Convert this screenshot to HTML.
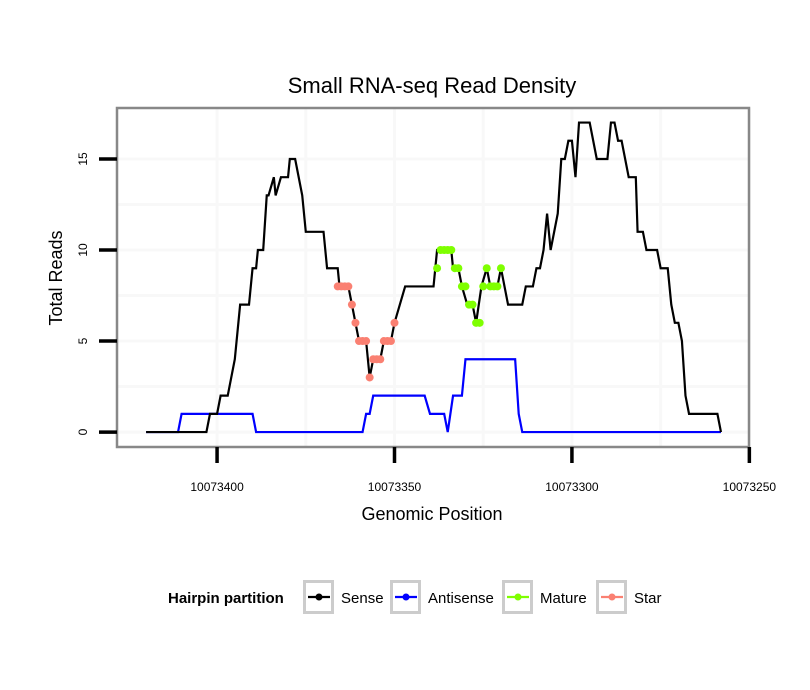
<!DOCTYPE html>
<html><head><meta charset="utf-8"><style>
body{margin:0;background:#fff;}
svg{display:block;font-family:"Liberation Sans",sans-serif;}
</style></head><body>
<svg id="chart" width="810" height="690" viewBox="0 0 810 690">
<rect x="0" y="0" width="810" height="690" fill="#fff"/>
<text x="432" y="93" font-size="22" text-anchor="middle">Small RNA-seq Read Density</text>
<g id="grid"></g>
<g id="series"></g>
<rect x="117" y="108" width="632" height="339" fill="none" stroke="#888" stroke-width="2.5"/>
<g id="axes"></g>
<text transform="translate(62,278) rotate(-90)" font-size="18" text-anchor="middle">Total Reads</text>
<text x="432" y="520" font-size="18" text-anchor="middle">Genomic Position</text>
<g>
<text x="168" y="603" font-size="15" font-weight="bold">Hairpin partition</text>
<g id="legend-items"></g>
</g>
</svg>
<script>
const yTicks=[0,5,10,15];
const xTicks=[10073400,10073350,10073300,10073250];
const senseX=[10073420,10073403,10073402,10073400,10073399,10073397,10073395,10073394,10073393.5,10073391,10073390,10073389,10073388.5,10073387,10073386,10073385.5,10073384,10073383.5,10073382,10073380,10073379.5,10073378,10073376,10073375,10073370,10073369,10073366,10073365.5,10073363,10073362,10073361,10073360,10073358,10073357,10073356,10073354,10073353,10073351,10073350,10073347,10073339,10073338,10073334,10073333.5,10073332,10073331,10073329.5,10073328,10073327,10073325.5,10073324,10073323,10073321,10073320,10073318,10073314,10073313,10073311,10073310,10073309,10073308,10073307,10073306,10073304,10073303,10073302,10073301,10073300,10073299,10073298,10073295,10073293,10073290,10073289,10073288,10073287,10073286,10073284,10073282,10073281.5,10073280,10073279,10073276,10073275,10073273,10073272,10073271,10073270,10073269,10073268,10073267,10073259,10073258];
const senseY=[0,0,1,1,2,2,4,6,7,7,9,9,10,10,13,13,14,13,14,14,15,15,13,11,11,9,9,8,8,7,6,5,5,3,4,4,5,5,6,8,8,10,10,9,9,8,7,7,6,8,9,8,8,9,7,7,8,8,9,9,10,12,10,12,15,15,16,16,14,17,17,15,15,17,17,16,16,14,14,11,11,10,10,9,9,7,6,6,5,2,1,1,0];
const antiX=[10073420,10073411,10073410,10073390,10073389,10073359,10073358,10073357,10073356,10073341.5,10073340,10073336,10073335,10073333.5,10073331,10073330,10073316,10073315,10073314,10073258];
const antiY=[0,0,1,1,0,0,1,1,2,2,1,1,0,2,2,4,4,1,0,0];
const matureX=[10073338,10073337,10073336,10073335,10073334,10073333,10073332,10073331,10073330,10073329,10073328,10073327,10073326,10073325,10073324,10073323,10073322,10073321,10073320];
const matureY=[9,10,10,10,10,9,9,8,8,7,7,6,6,8,9,8,8,8,9];
const starX=[10073366,10073365,10073364,10073363,10073362,10073361,10073360,10073359,10073358,10073357,10073356,10073355,10073354,10073353,10073352,10073351,10073350];
const starY=[8,8,8,8,7,6,5,5,5,3,4,4,4,5,5,5,6];
const legendLabels=["Sense","Antisense","Mature","Star"];
const legendColors=["#000","#0000ff","#7fff00","#fa8072"];

const NS="http://www.w3.org/2000/svg";
const X0=117,X1=749,Y0=447,Y1=108;
const xMin=10073428.2,xMax=10073250.1,yMin=-0.82,yMax=17.8;
function sx(v){return X0+(v-xMin)/(xMax-xMin)*(X1-X0);}
function sy(v){return Y0+(v-yMin)/(yMax-yMin)*(Y1-Y0);}
function mk(tag,attrs,parent){const e=document.createElementNS(NS,tag);for(const k in attrs)e.setAttribute(k,attrs[k]);parent.appendChild(e);return e;}
const grid=document.getElementById('grid'),series=document.getElementById('series'),axes=document.getElementById('axes');
[2.5,7.5,12.5].concat(yTicks).forEach(v=>{const l=mk('line',{x1:X0,x2:X1,y1:sy(v),y2:sy(v),stroke:'#f8f8f8','stroke-width':3},grid);

});
[10073375,10073325,10073275].concat(xTicks).forEach(v=>{const l=mk('line',{x1:sx(v),x2:sx(v),y1:Y1,y2:Y0,stroke:'#f8f8f8','stroke-width':3},grid);

});
yTicks.forEach(v=>{const t=mk('line',{x1:99,x2:117,y1:sy(v),y2:sy(v),stroke:'#000','stroke-width':3.5},axes);


const lb=mk('text',{transform:`translate(87,${sy(v)}) rotate(-90)`,'font-size':12,'text-anchor':'middle'},axes);lb.textContent=v;

});
xTicks.forEach(v=>{const t=mk('line',{x1:sx(v),x2:sx(v),y1:447,y2:463,stroke:'#000','stroke-width':3.5},axes);


const lb=mk('text',{x:sx(v),y:491,'font-size':12,'text-anchor':'middle'},axes);lb.textContent=v;

});
function line(xs,ys,color,name){const p=mk('polyline',{points:xs.map((x,i)=>sx(x)+','+sy(ys[i])).join(' '),fill:'none',stroke:color,'stroke-width':2.2},series);

}
function pts(xs,ys,color,name){xs.forEach((x,i)=>{const c=mk('circle',{cx:sx(x),cy:sy(ys[i]),r:4,fill:color},series);

});}
line(antiX,antiY,'#0000ff','antisense-line');
line(senseX,senseY,'#000','sense-line');
pts(starX,starY,'#fa8072','star-point');
pts(matureX,matureY,'#7fff00','mature-point');
const li=document.getElementById('legend-items');
const bx=[303,390,502,596];
legendLabels.forEach((lab,i)=>{const g=mk('g',{},li);


mk('rect',{x:bx[i]+1.5,y:581.5,width:28,height:31,fill:'#fff',stroke:'#ccc','stroke-width':3},g);
mk('line',{x1:bx[i]+5,x2:bx[i]+27,y1:597,y2:597,stroke:legendColors[i],'stroke-width':2.2},g);
mk('circle',{cx:bx[i]+16,cy:597,r:3.5,fill:legendColors[i]},g);
const t=mk('text',{x:bx[i]+38,y:603,'font-size':15},g);t.textContent=lab;});
</script>
</body></html>
